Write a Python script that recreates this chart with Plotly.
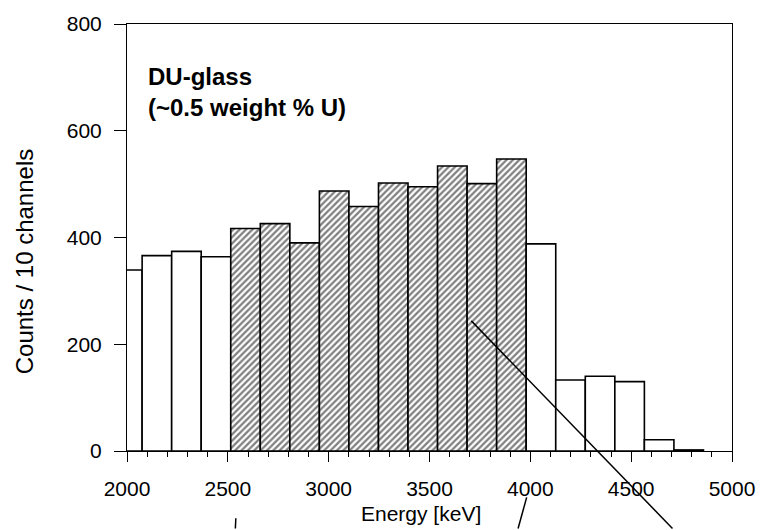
import plotly.graph_objects as go

# ---- data ----
bin_start = 1928.5          # left edge of first (partially visible) bin, keV
bin_width = 146.5           # keV per bin (10 channels)
counts = [339, 366, 374, 364, 417, 426, 390, 487, 458, 502,
          495, 534, 501, 547, 388, 133, 140, 130, 21, 2]
hatched = [False, False, False, False, True, True, True, True, True, True,
           True, True, True, True, False, False, False, False, False, False]
x_ticks = [2000, 2500, 3000, 3500, 4000, 4500, 5000]
y_ticks = [0, 200, 400, 600, 800]

centers = [bin_start + bin_width * (i + 0.5) for i in range(len(counts))]
shapes_pat = ["/" if h else "" for h in hatched]

FONT = "Liberation Sans, Arial, sans-serif"

fig = go.Figure()
fig.add_trace(go.Bar(
    x=centers, y=counts, width=bin_width,
    marker=dict(
        color="white",
        line=dict(color="black", width=1.6),
        pattern=dict(shape=shapes_pat, fgcolor="black", bgcolor="white",
                     size=4.5, solidity=0.5, fillmode="overlay"),
    ),
    showlegend=False, hoverinfo="skip",
))

L, R, T, B = 126.7, 28.3, 15.5, 79.0
W, H = 767, 530
pw, ph = W - L - R, H - T - B

def px2paper(x, y):
    return (x - L) / pw, (H - B - y) / ph

lines_px = [((475, 318.3), (678.5, 530)),
            ((531, 498.3), (522.3, 530)),
            ((236.8, 519.5), (236.3, 530))]
shapes = []
for (x0, y0), (x1, y1) in lines_px:
    a0, b0 = px2paper(x0, y0)
    a1, b1 = px2paper(x1, y1)
    shapes.append(dict(type="line", xref="paper", yref="paper",
                       x0=a0, y0=b0, x1=a1, y1=b1,
                       line=dict(color="black", width=1.5), layer="above"))

ax_common = dict(showline=True, linecolor="black", linewidth=1, mirror=True,
                 showgrid=False, zeroline=False, ticks="outside",
                 tickcolor="black", tickfont=dict(family=FONT, size=21, color="black"))

fig.update_layout(
    width=W, height=H,
    margin=dict(l=L, r=R, t=T, b=B, pad=0),
    paper_bgcolor="white", plot_bgcolor="white",
    font=dict(family=FONT, color="black"),
    xaxis=dict(range=[2000, 5000], tickvals=x_ticks, ticklen=10,
               ticklabelstandoff=9,
               minor=dict(dtick=100, tick0=2000, ticklen=5, ticks="outside",
                          tickcolor="black", showgrid=False),
               **ax_common),
    yaxis=dict(range=[0, 800], tickvals=y_ticks, ticklen=12,
               ticklabelstandoff=8, **ax_common),
    shapes=shapes,
    annotations=[
        dict(text="<b>DU-glass<br>(~0.5 weight % U)</b>", xref="paper", yref="paper",
             x=(146 - L) / pw, y=(H - B - 53) / ph, xanchor="left", yanchor="top",
             align="left", showarrow=False, font=dict(family=FONT, size=24, color="black")),
        dict(text="Energy [keV]", xref="paper", yref="paper",
             x=(424 - L) / pw, y=(H - B - 515) / ph, xanchor="center", yanchor="middle",
             showarrow=False, font=dict(family=FONT, size=21, color="black")),
        dict(text="Counts / 10 channels", xref="paper", yref="paper", textangle=-90,
             x=(23 - L) / pw, y=(H - B - 258) / ph, xanchor="center", yanchor="middle",
             showarrow=False, font=dict(family=FONT, size=24, color="black")),
    ],
)

fig.write_html("out.html")
